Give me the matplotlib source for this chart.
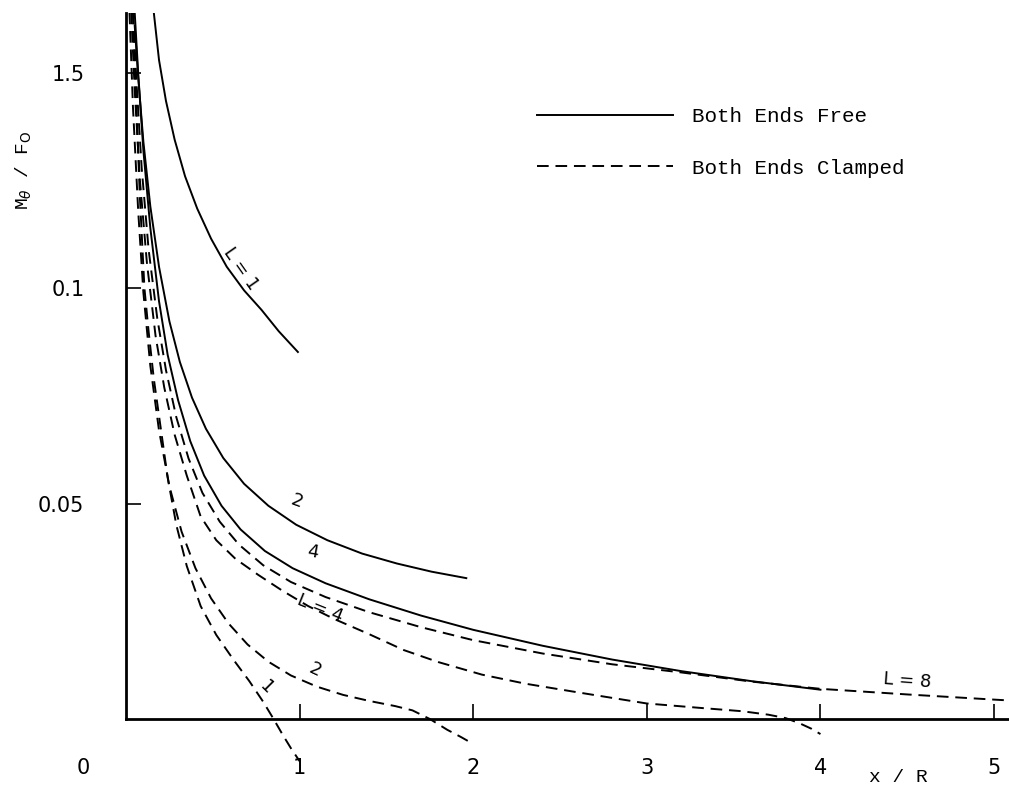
import matplotlib.pyplot as plt

plt.rcParams["font.family"] = "DejaVu Sans"

# Both Ends Free (solid) curves, x/R vs M_theta/F_0
free_l1_x = [0.16, 0.19, 0.23, 0.28, 0.34, 0.41, 0.49, 0.58, 0.68, 0.78, 0.88, 0.99]
free_l1_y = [0.164, 0.153, 0.1435, 0.1345, 0.126, 0.1185, 0.1115, 0.105, 0.0995, 0.095,
             0.09, 0.0852]

free_l2_x = [0.05, 0.07, 0.1, 0.14, 0.19, 0.25, 0.31, 0.38, 0.46, 0.56, 0.68, 0.82, 0.98,
             1.16, 1.36, 1.56, 1.76, 1.96]
free_l2_y = [0.161, 0.149, 0.134, 0.119, 0.105, 0.0923, 0.0829, 0.0746, 0.0674, 0.0606,
             0.0546, 0.0495, 0.0451, 0.0415, 0.0384, 0.0361, 0.0342, 0.0327]

free_l4_x = [0.05, 0.07, 0.1, 0.14, 0.19, 0.24, 0.3, 0.37, 0.45, 0.55, 0.66, 0.8, 0.96,
             1.15, 1.4, 1.7, 2.0, 2.4, 2.8, 3.2, 3.6, 4.0]
free_l4_y = [0.164, 0.15, 0.132, 0.114, 0.097, 0.0845, 0.074, 0.0645, 0.0565, 0.0495,
             0.044, 0.039, 0.035, 0.0315, 0.0278, 0.024, 0.0207, 0.017, 0.0138, 0.0111,
             0.0088, 0.0068]

# Both Ends Clamped (dashed) curves
clamp_l8_x = [0.04, 0.06, 0.09, 0.13, 0.18, 0.23, 0.29, 0.36, 0.44, 0.54, 0.65, 0.79, 0.95,
              1.15, 1.4, 1.7, 2.0, 2.4, 2.8, 3.2, 3.6, 4.0, 4.5, 5.0, 5.09]
clamp_l8_y = [0.164, 0.148, 0.128, 0.109, 0.093, 0.081, 0.07, 0.0605, 0.0525, 0.0458,
              0.0405, 0.0357, 0.0318, 0.0283, 0.0248, 0.0213, 0.0183, 0.0152, 0.0127,
              0.0108, 0.0087, 0.007, 0.0057, 0.0045, 0.0043]

clamp_l4_x = [0.03, 0.05, 0.08, 0.12, 0.17, 0.22, 0.28, 0.35, 0.43, 0.52, 0.63, 0.76, 0.9,
              1.05, 1.2, 1.4, 1.6, 1.8, 2.05, 2.3, 2.6, 3.0, 3.3, 3.55, 3.7, 3.8, 3.88,
              3.95, 4.0]
clamp_l4_y = [0.164, 0.146, 0.125, 0.106, 0.089, 0.077, 0.066, 0.0565, 0.047, 0.0415,
              0.0372, 0.0335, 0.0298, 0.0262, 0.0232, 0.0197, 0.016, 0.0132, 0.0103,
              0.0082, 0.0062, 0.0036, 0.0026, 0.0018, 0.001, 0.0002, -0.001, -0.0023,
              -0.0035]

clamp_l2_x = [0.02, 0.04, 0.07, 0.1, 0.14, 0.19, 0.25, 0.32, 0.4, 0.49, 0.59, 0.7, 0.82,
              0.95, 1.1, 1.25, 1.4, 1.55, 1.65, 1.75, 1.85, 1.93, 2.0]
clamp_l2_y = [0.164, 0.142, 0.118, 0.099, 0.082, 0.067, 0.054, 0.0435, 0.035, 0.028,
              0.0222, 0.0173, 0.0133, 0.0101, 0.0075, 0.0056, 0.0042, 0.003, 0.002, 0.0,
              -0.0025, -0.0042, -0.0058]

clamp_l1_x = [0.04, 0.06, 0.08, 0.106, 0.13, 0.16, 0.2, 0.24, 0.29, 0.35, 0.43, 0.52, 0.62,
              0.71, 0.79, 0.85, 0.9, 0.95, 1.0]
clamp_l1_y = [0.164, 0.142, 0.121, 0.1, 0.09, 0.079, 0.0675, 0.056, 0.045, 0.0355, 0.0262,
              0.0195, 0.0137, 0.0088, 0.004, 0.0, -0.0035, -0.0068, -0.0098]

x_ticks = [1, 2, 3, 4, 5]
y_ticks = [0.05, 0.1, 0.15]
y_tick_labels = ["0.05", "0.1", "1.5"]

fig = plt.figure(figsize=(10.09, 7.88), dpi=100)
ax = fig.add_axes([0.1249, 0.0, 0.8751, 775 / 788])
ax.set_xlim(0, 5.086)
ax.set_ylim(-0.01602, 0.1639)

lw = 1.4
dash = (0, (6, 3.5))
ax.plot(free_l1_x, free_l1_y, color="k", lw=lw, label="Both Ends Free")
ax.plot(free_l2_x, free_l2_y, color="k", lw=lw)
ax.plot(free_l4_x, free_l4_y, color="k", lw=lw)
ax.plot(clamp_l8_x, clamp_l8_y, color="k", lw=lw, ls=dash, label="Both Ends Clamped")
ax.plot(clamp_l4_x, clamp_l4_y, color="k", lw=lw, ls=dash)
ax.plot(clamp_l2_x, clamp_l2_y, color="k", lw=lw, ls=dash)
ax.plot(clamp_l1_x, clamp_l1_y, color="k", lw=lw, ls=dash)

for s in ["top", "right"]:
    ax.spines[s].set_visible(False)
ax.spines["bottom"].set_position(("data", 0))
ax.spines["left"].set_bounds(0, 0.1639)
ax.spines["bottom"].set_linewidth(2)
ax.spines["left"].set_linewidth(2)

ax.set_xticks(x_ticks)
ax.set_xticklabels([str(t) for t in x_ticks])
ax.set_yticks(y_ticks)
ax.set_yticklabels(y_tick_labels)
ax.tick_params(axis="both", direction="in", length=11, width=1.2, labelsize=15, pad=28)
ax.tick_params(axis="y", pad=30)

ax.text(-0.248, -0.0114, "0", fontsize=15, ha="center", va="center", clip_on=False)
ax.text(4.45, -0.0135, "x / R", fontsize=14, family="Liberation Mono",
        ha="center", va="center", clip_on=False)
fig.text(24 / 1009, 1 - 170 / 788, r"M$_\theta$ / F$_\mathrm{O}$", fontsize=14,
         family="Liberation Mono", rotation=90, ha="center", va="center")

# curve labels
lab = dict(fontsize=13, color="k", ha="center", va="center")
ax.text(0.66, 0.1045, "L = 1", rotation=-55, **lab)
ax.text(0.985, 0.0505, "2", rotation=-20, **lab)
ax.text(1.077, 0.0388, "4", rotation=-10, **lab)
ax.text(1.12, 0.0258, "L = 4", rotation=-22, **lab)
ax.text(1.09, 0.0114, "2", rotation=-25, **lab)
ax.text(0.81, 0.0074, "1", rotation=-45, **lab)
ax.text(4.5, 0.009, "L = 8", rotation=-4, **lab)

ax.legend(loc="upper left", bbox_to_anchor=(527 / 1009, 1 - 97 / 788),
          bbox_transform=fig.transFigure, frameon=False, borderpad=0,
          handlelength=6.5, handletextpad=0.9, labelspacing=1.54,
          prop={"family": "Liberation Mono", "size": 15})

fig.savefig("out.png", dpi=100, facecolor="white")
